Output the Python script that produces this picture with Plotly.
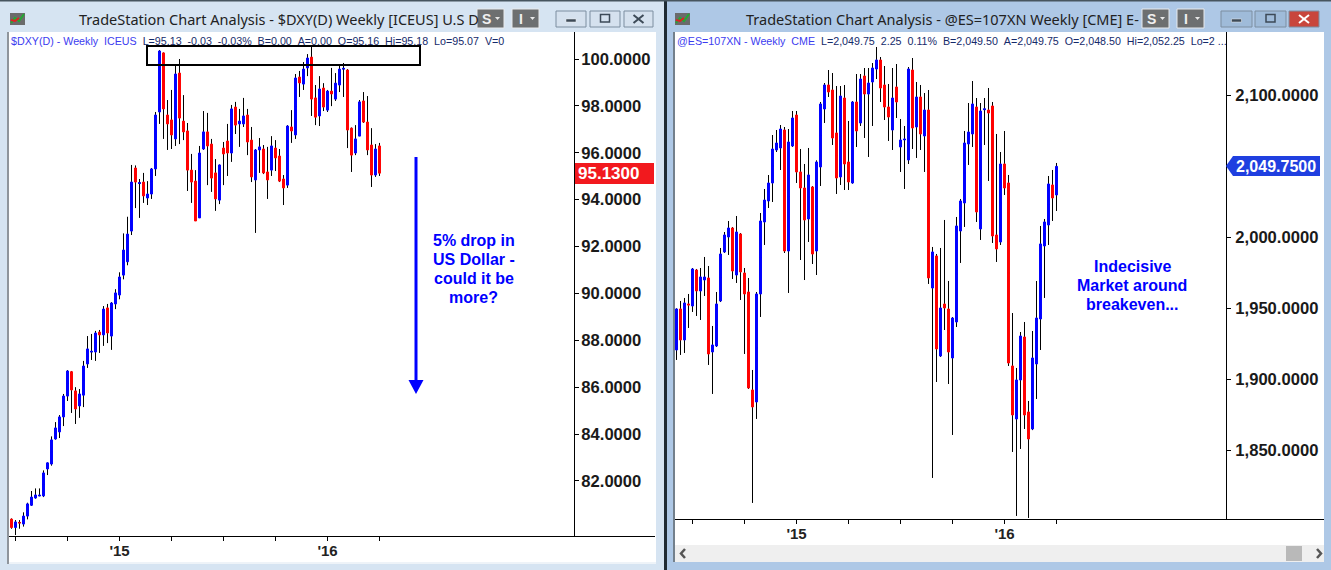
import plotly.graph_objects as go

W, H = 1331, 570

# ---- data: $DXY(D) weekly
dxy_open = [80.37,80.01,80.23,80.16,80.50,80.96,81.27,81.36,81.36,82.51,82.72,83.79,84.09,84.73,85.62,86.66,85.84,85.20,85.66,86.99,
87.50,87.50,88.35,88.23,89.38,88.18,89.55,89.93,90.78,91.35,92.66,95.35,94.69,94.75,94.07,94.24,95.31,97.74,100.26,97.61,
97.40,96.59,99.40,97.35,96.93,95.26,94.79,93.22,96.16,96.89,96.37,95.14,93.98,96.20,96.50,95.99,97.95,97.23,97.23,97.61,
96.54,94.84,96.12,96.16,95.18,95.26,96.20,95.86,94.88,94.62,97.10,96.76,99.23,98.93,99.62,100.08,98.34,97.57,98.76,97.82,
98.63,98.29,98.89,99.57,99.53,97.05,95.99,96.71,98.21,97.31,96.33,95.05,96.29]
dxy_high = [80.40,80.33,80.33,80.66,81.07,81.57,81.68,81.68,82.45,82.79,83.90,84.51,84.81,85.71,86.73,86.69,86.00,85.92,87.12,88.18,
88.27,88.40,88.44,89.46,89.55,89.63,90.18,90.90,92.56,93.27,95.48,95.46,94.88,95.14,94.79,95.35,97.74,100.38,100.28,98.25,
98.68,99.74,100.00,98.46,97.27,95.95,95.26,96.29,97.78,97.70,96.59,95.73,95.50,96.46,97.23,98.04,98.17,97.87,98.34,97.87,
97.10,96.16,96.63,96.33,96.25,96.71,96.54,96.16,95.05,97.18,97.82,99.36,99.49,99.87,100.21,100.55,98.89,99.27,98.97,98.68,
99.62,99.40,99.74,99.83,99.57,97.08,97.18,98.25,98.59,98.42,97.05,96.37,96.42]
dxy_low = [79.96,79.69,79.96,80.05,80.36,80.93,81.24,81.35,81.31,82.25,82.65,83.76,83.83,84.34,85.41,84.90,84.43,84.69,85.15,86.82,
87.16,87.12,87.46,87.76,87.88,87.59,89.33,89.75,90.60,91.20,92.49,93.64,93.22,93.86,93.77,94.03,95.01,97.23,96.59,96.12,
96.16,96.29,96.37,96.54,94.37,93.86,93.09,93.22,96.12,94.62,94.33,93.52,93.81,94.62,95.01,95.61,96.80,96.25,97.10,95.90,
94.75,92.58,95.14,95.09,94.03,95.01,95.22,94.75,93.77,94.50,96.42,96.59,98.38,98.68,99.27,97.57,97.18,97.14,97.78,97.74,
97.99,98.21,98.59,98.38,96.20,95.18,95.90,96.71,97.27,95.90,94.54,94.97,95.01]
dxy_close = [80.01,80.25,80.21,80.50,81.02,81.31,81.40,81.39,82.34,82.77,83.75,84.26,84.73,85.62,86.69,85.88,85.07,85.71,86.90,87.63,
87.53,88.31,88.23,89.33,88.31,89.59,90.02,90.70,91.85,92.53,94.75,94.75,94.72,94.16,94.24,95.31,97.61,100.34,97.87,97.23,
96.76,99.36,97.48,96.89,95.26,94.75,93.09,95.99,96.89,96.29,94.92,94.03,95.48,95.95,95.99,97.87,97.18,97.35,97.57,96.46,
94.97,96.12,96.25,95.14,94.84,96.29,95.78,94.79,94.50,97.14,96.93,99.19,98.98,99.57,100.04,98.29,97.52,98.72,97.95,98.63,
98.51,98.97,99.57,99.60,96.97,95.90,96.59,98.17,97.31,96.12,95.05,96.16,95.13]

# ---- data: @ES=107XN weekly
es_open = [1920.45,1949.32,1927.49,1952.84,1951.43,1976.77,1961.99,1969.73,1971.14,1919.04,1923.26,1954.95,1989.45,2000.01,2006.35,1973.25,2002.12,1974.66,1961.28,1892.28,
1883.83,1959.88,2010.57,2025.36,2038.03,2061.27,2062.68,2075.35,1990.15,2064.10,2085.92,2045.79,2034.52,2012.70,2035.23,1990.14,2049.31,2090.15,2107.05,2103.52,
2073.25,2042.27,2097.89,2052.83,2038.04,2095.08,2080.29,2113.38,2100.71,2109.16,2118.31,2124.65,2107.05,2091.56,2075.36,2105.64,2063.39,2068.40,2054.24,2117.61,
2077.47,2098.60,2071.14,2089.44,1964.09,1986.65,1916.21,1952.82,1949.30,1914.80,1940.15,2004.25,2023.96,2065.51,2072.55,2091.56,2005.66,2089.60,2089.44,2092.26,
2001.43,1996.50,2051.42,2038.05,1909.17,1871.85,1899.31,1929.59,1876.78,1864.81,1910.58,1942.26,1993.69,2008.47,2036.64,2029.60]
es_high = [1949.79,1954.95,1957.06,1959.88,1978.18,1977.48,1978.18,1985.93,1979.59,1937.35,1961.28,1992.27,2003.53,2011.28,2007.05,2014.80,2002.83,1978.18,1971.14,1906.36,
1961.28,2016.91,2033.81,2043.66,2071.83,2075.35,2078.87,2077.46,2076.05,2088.74,2088.74,2061.98,2051.42,2062.69,2035.90,2054.00,2095.08,2108.45,2117.61,2115.49,
2106.34,2106.34,2107.05,2081.70,2095.78,2114.79,2114.79,2119.02,2119.02,2122.54,2133.80,2126.76,2120.42,2107.75,2119.02,2121.83,2083.11,2078.18,2119.72,2126.06,
2109.16,2107.05,2101.41,2103.53,1992.98,1988.05,1992.28,2011.99,1969.04,1943.67,2014.11,2026.78,2074.66,2094.37,2109.86,2097.89,2094.37,2097.89,2104.94,2095.08,
2072.55,2059.87,2074.66,2043.68,1946.48,1907.76,1933.11,1940.15,1884.52,1933.81,1969.02,2007.77,2012.70,2042.97,2047.20,2052.13]
es_low = [1913.41,1916.93,1918.33,1935.94,1947.20,1944.39,1941.57,1958.47,1909.89,1889.47,1922.56,1954.20,1988.75,1987.34,1970.44,1967.62,1955.65,1917.63,1892.99,1812.72,
1871.86,1943.68,1994.38,2020.43,2024.65,2059.86,2047.18,1988.74,1960.58,2063.39,2038.04,1983.80,1969.70,1996.50,1980.99,1973.24,2035.93,2080.29,2098.60,2064.80,
2030.30,2036.64,2033.11,2033.11,2037.50,2063.39,2078.18,2069.73,2056.35,2078.18,2111.27,2095.08,2082.40,2067.62,2061.28,2083.81,2045.79,2033.82,2051.42,2061.98,
2055.65,2061.28,2045.79,1966.93,1830.31,1897.90,1915.50,1934.51,1896.49,1860.58,1936.63,1981.72,2007.07,2050.72,2063.39,2010.59,1997.91,2064.80,2039.45,1995.80,
1982.42,1994.39,2029.60,1909.17,1848.61,1803.55,1850.73,1864.81,1802.14,1864.00,1885.93,1920.43,1957.07,1994.39,2011.29,2018.33]
es_close = [1949.32,1927.49,1953.54,1952.13,1977.48,1961.99,1971.85,1971.85,1917.63,1923.97,1952.84,1988.04,2001.42,2006.35,1976.07,2003.53,1975.37,1959.88,1893.69,1880.31,
1959.88,2011.28,2026.06,2038.03,2061.97,2066.20,2076.05,1990.15,2066.90,2083.81,2045.79,2034.52,2011.99,2043.68,1988.03,2052.83,2093.67,2107.05,2102.12,2069.73,
2041.56,2099.30,2051.42,2038.75,2095.08,2074.66,2111.27,2100.71,2108.45,2119.02,2124.65,2104.93,2091.56,2084.51,2097.89,2095.08,2068.32,2068.90,2118.31,2076.77,
2098.60,2072.55,2089.44,1971.16,1989.46,1921.14,1950.01,1950.01,1919.02,1942.96,2007.77,2025.37,2066.21,2073.95,2093.67,2017.63,2088.74,2090.20,2087.33,2000.73,
1991.58,2051.42,2034.53,1911.28,1874.67,1899.31,1930.29,1874.67,1857.77,1914.80,1942.96,1995.10,2010.59,2037.34,2027.48,2049.75]

dxy_ticks = [82, 84, 86, 88, 90, 92, 94, 96, 98, 100]
es_ticks = [1850, 1900, 1950, 2000, 2050, 2100]
dxy_week_ticks = [1, 14, 27, 40, 53, 66, 79, 92]
dxy_week_labels = ["", "", "'15", "", "", "", "'16", ""]
es_week_ticks = [4, 17, 30, 43, 56, 69, 82, 95]
es_week_labels = ["", "", "'15", "", "", "", "'16", ""]
dxy_last = 95.13
es_last = 2049.75

BLUE, RED = "#0000ff", "#ff0000"
WIN_L, WIN_R = "#d6e4f2", "#aec8e6"


def X(px):
    return px / W


def Y(py):
    return 1 - py / H


def mid(a, b):
    return [(p + q) / 2 for p, q in zip(a, b)]


def candles(o, h, l, c, xa, ya):
    xs = list(range(len(o)))
    m = mid(o, c)
    wick = go.Candlestick(x=xs, open=m, close=m, high=h, low=l, xaxis=xa, yaxis=ya,
                          increasing=dict(line=dict(color="#000", width=1), fillcolor="#000"),
                          decreasing=dict(line=dict(color="#000", width=1), fillcolor="#000"),
                          hoverinfo="skip", showlegend=False)
    body = go.Candlestick(x=xs, open=o, close=c, high=[max(a, b) for a, b in zip(o, c)],
                          low=[min(a, b) for a, b in zip(o, c)], xaxis=xa, yaxis=ya,
                          increasing=dict(line=dict(color=BLUE, width=1), fillcolor=BLUE),
                          decreasing=dict(line=dict(color=RED, width=1), fillcolor=RED),
                          showlegend=False)
    return [wick, body]


fig = go.Figure(candles(dxy_open, dxy_high, dxy_low, dxy_close, "x", "y") +
                candles(es_open, es_high, es_low, es_close, "x2", "y2"))

shapes = []
annos = []


def rect(x0, y0, x1, y1, fill, line=None, lw=0, layer="below"):
    shapes.append(dict(type="rect", xref="paper", yref="paper", x0=X(x0), x1=X(x1), y0=Y(y0), y1=Y(y1),
                       fillcolor=fill, line=dict(color=line or fill, width=lw), layer=layer))


def path(points, fill=None, line=None, lw=0, layer="below"):
    d = "M " + " L ".join(f"{X(a):.5f},{Y(b):.5f}" for a, b in points)
    if fill:
        d += " Z"
    shapes.append(dict(type="path", xref="paper", yref="paper", path=d,
                       fillcolor=fill or "rgba(0,0,0,0)", line=dict(color=line or "rgba(0,0,0,0)", width=lw), layer=layer))


def text(px, py, s, size, color, bold=False, anchor="left", family="Liberation Sans"):
    annos.append(dict(xref="paper", yref="paper", x=X(px), y=Y(py), text=f"<b>{s}</b>" if bold else s,
                      showarrow=False, xanchor=anchor, yanchor="middle",
                      font=dict(size=size, color=color, family=family), borderpad=0, borderwidth=0))


# window frames
rect(0, 0, 664, 570, WIN_L)
rect(664, 0, 667, 570, "#1f2a33")
rect(667, 0, 1331, 570, WIN_R)
rect(0, 0, 1331, 1.5, "#47555f")
rect(0, 566, 664, 570, "#d6e4f2")
# client areas
rect(7, 32, 9, 564, "#8f959c")
rect(9, 32, 656, 562, "#ffffff")
rect(9, 562, 656, 564, "#eef3f8")
rect(673, 32, 675, 562, "#73808c")
rect(675, 32, 1324, 545, "#ffffff")
rect(675, 545, 1324, 562, "#efefef")
rect(1286, 546, 1302, 561, "#b9b9b9")
path([(685, 549), (681, 553.5), (685, 558)], line="#555555", lw=2.5)
path([(1317, 549), (1321, 553.5), (1317, 558)], line="#555555", lw=2.5)


def chrome(s_x, i_x, btns, close_col, btn_col, icon_x):
    for bx, label in ((s_x, "S"), (i_x, "I")):
        rect(bx, 9, bx + 27, 28, "#6d6f70", line="#e8eaec", lw=1)
        text(bx + 9, 19, label, 14, "#f0f0f0", bold=True, anchor="center")
        path([(bx + 18, 17), (bx + 23, 17), (bx + 20.5, 20)], fill="#e8e8e8")
    for (a, b), col in zip(btns, (btn_col, btn_col, close_col)):
        rect(a, 11, b, 27, col, line="#7d8ea0", lw=1)
    (a, b) = btns[0]
    rect((a + b) / 2 - 5, 19, (a + b) / 2 + 5, 22, "#3d4a57", line="#eeeeee", lw=0.5)
    (a, b) = btns[1]
    rect((a + b) / 2 - 4.5, 14.5, (a + b) / 2 + 4.5, 22, "rgba(0,0,0,0)", line="#3d4a57", lw=1.5)
    (a, b) = btns[2]
    dark = "#ffffff" if close_col != btn_col else "#3d4a57"
    path([((a + b) / 2 - 5, 15), ((a + b) / 2 + 5, 23)], line=dark, lw=2)
    path([((a + b) / 2 - 5, 23), ((a + b) / 2 + 5, 15)], line=dark, lw=2)
    # app icon
    rect(icon_x, 13, icon_x + 15, 25, "#6b6b6b")
    path([(icon_x + 1, 23), (icon_x + 5, 18), (icon_x + 9, 21), (icon_x + 14, 14)], line="#22aa33", lw=2)
    path([(icon_x + 1, 20), (icon_x + 5, 21), (icon_x + 9, 18)], line="#dd2222", lw=2)


chrome(477, 512, [(556, 586), (590, 620), (624, 653)], "#d5e1ee", "#d5e1ee", 10)
chrome(1142, 1177, [(1221, 1252), (1255, 1286), (1289, 1319)], "#c8463c", "#9fbbd9", 675)

text(79, 19, "TradeStation Chart Analysis - $DXY(D) Weekly [ICEUS] U.S D", 14.5, "#222222", family="Noto Sans")
text(746, 19, "TradeStation Chart Analysis - @ES=107XN Weekly [CME] E-", 14.5, "#222222", family="Noto Sans")

sp = "\u00a0"
BLUE_TXT, DARK_TXT = "#3c3cf0", "#152a6a"
text(11, 41, f"<span style='color:{BLUE_TXT}'>$DXY(D) - Weekly{sp}{sp}ICEUS</span>{sp}{sp}"
     f"L=95.13{sp}{sp}-0.03{sp}{sp}-0.03%{sp}{sp}B=0.00{sp}{sp}A=0.00{sp}{sp}O=95.16{sp}{sp}Hi=95.18{sp}{sp}Lo=95.07{sp}{sp}V=0",
     10.7, DARK_TXT)
text(677, 41, f"<span style='color:{BLUE_TXT}'>@ES=107XN - Weekly{sp}{sp}CME</span>{sp}{sp}"
     f"L=2,049.75{sp}{sp}2.25{sp}{sp}0.11%{sp}{sp}B=2,049.50{sp}{sp}A=2,049.75{sp}{sp}O=2,048.50{sp}{sp}Hi=2,052.25{sp}{sp}Lo=2{sp}...",
     10.7, DARK_TXT)

# last-price tags
rect(575, 163, 654, 184, "#f2191e", layer="above")
text(578, 173.5, f"{dxy_last:.4f}", 17, "#ffffff", bold=True)
path([(1226, 166), (1233, 156), (1320, 156), (1320, 176), (1233, 176)], fill="#1f3fe0", layer="above")
text(1236, 166, f"{es_last:,.4f}", 16, "#ffffff", bold=True)

# drawing tools
rect(147, 46, 420, 65, "rgba(0,0,0,0)", line="#000000", lw=2, layer="above")
path([(416, 157), (416, 381)], line="#0000ff", lw=3, layer="above")
path([(408.5, 380), (423.5, 380), (416, 394)], fill="#0000ff", layer="above")
for py, s in zip((240, 259, 278, 297), ("5% drop in", "US Dollar -", "could it be", "more?")):
    text(473.5, py, s, 16, "#0000ff", bold=True, anchor="center")
for py, s in zip((266, 285, 304), ("Indecisive", "Market around", "breakeven...")):
    text(1132, py, s, 16, "#0000ff", bold=True, anchor="center")

xcommon = dict(showgrid=False, zeroline=False, showline=True, linecolor="#000", linewidth=1, ticks="outside",
               ticklen=4, tickcolor="#000", tickwidth=1, tickmode="array", ticklabelstandoff=-3,
               tickfont=dict(family="Liberation Sans", size=15, color="#222222", weight="bold"),
               rangeslider=dict(visible=False))
ycommon = dict(showgrid=False, zeroline=False, showline=True, linecolor="#000", linewidth=1, ticks="outside",
               ticklen=4, tickcolor="#000", tickwidth=1, tickmode="array", side="right", anchor="free",
               tickfont=dict(family="Liberation Sans", size=16.6, color="#1a1a1a", weight="bold"))

fig.update_layout(
    width=W, height=H, margin=dict(l=0, r=0, t=0, b=0), paper_bgcolor=WIN_L, plot_bgcolor="rgba(0,0,0,0)",
    showlegend=False, dragmode=False, shapes=shapes, annotations=annos,
    xaxis=dict(xcommon, domain=[X(9), X(655)], range=[-0.625, 160.875], anchor="y",
               tickvals=dxy_week_ticks, ticktext=dxy_week_labels),
    yaxis=dict(ycommon, domain=[Y(536), Y(32)], range=[79.65, 101.152], position=X(574), ticklabelstandoff=-1,
               tickvals=dxy_ticks, ticktext=[f"{v:.4f}" for v in dxy_ticks]),
    xaxis2=dict(xcommon, domain=[X(675), X(1324)], range=[-0.375, 161.875], anchor="y2",
                tickvals=es_week_ticks, ticktext=es_week_labels),
    yaxis2=dict(ycommon, domain=[Y(519), Y(32)], range=[1801.41, 2144.37], position=X(1226),
                ticklabelstandoff=1, tickvals=es_ticks, ticktext=[f"{v:,.4f}" for v in es_ticks]),
)

fig.write_html("out.html", config=dict(displayModeBar=False),
               post_script="document.body.style.margin='0';document.body.style.overflow='hidden';")
